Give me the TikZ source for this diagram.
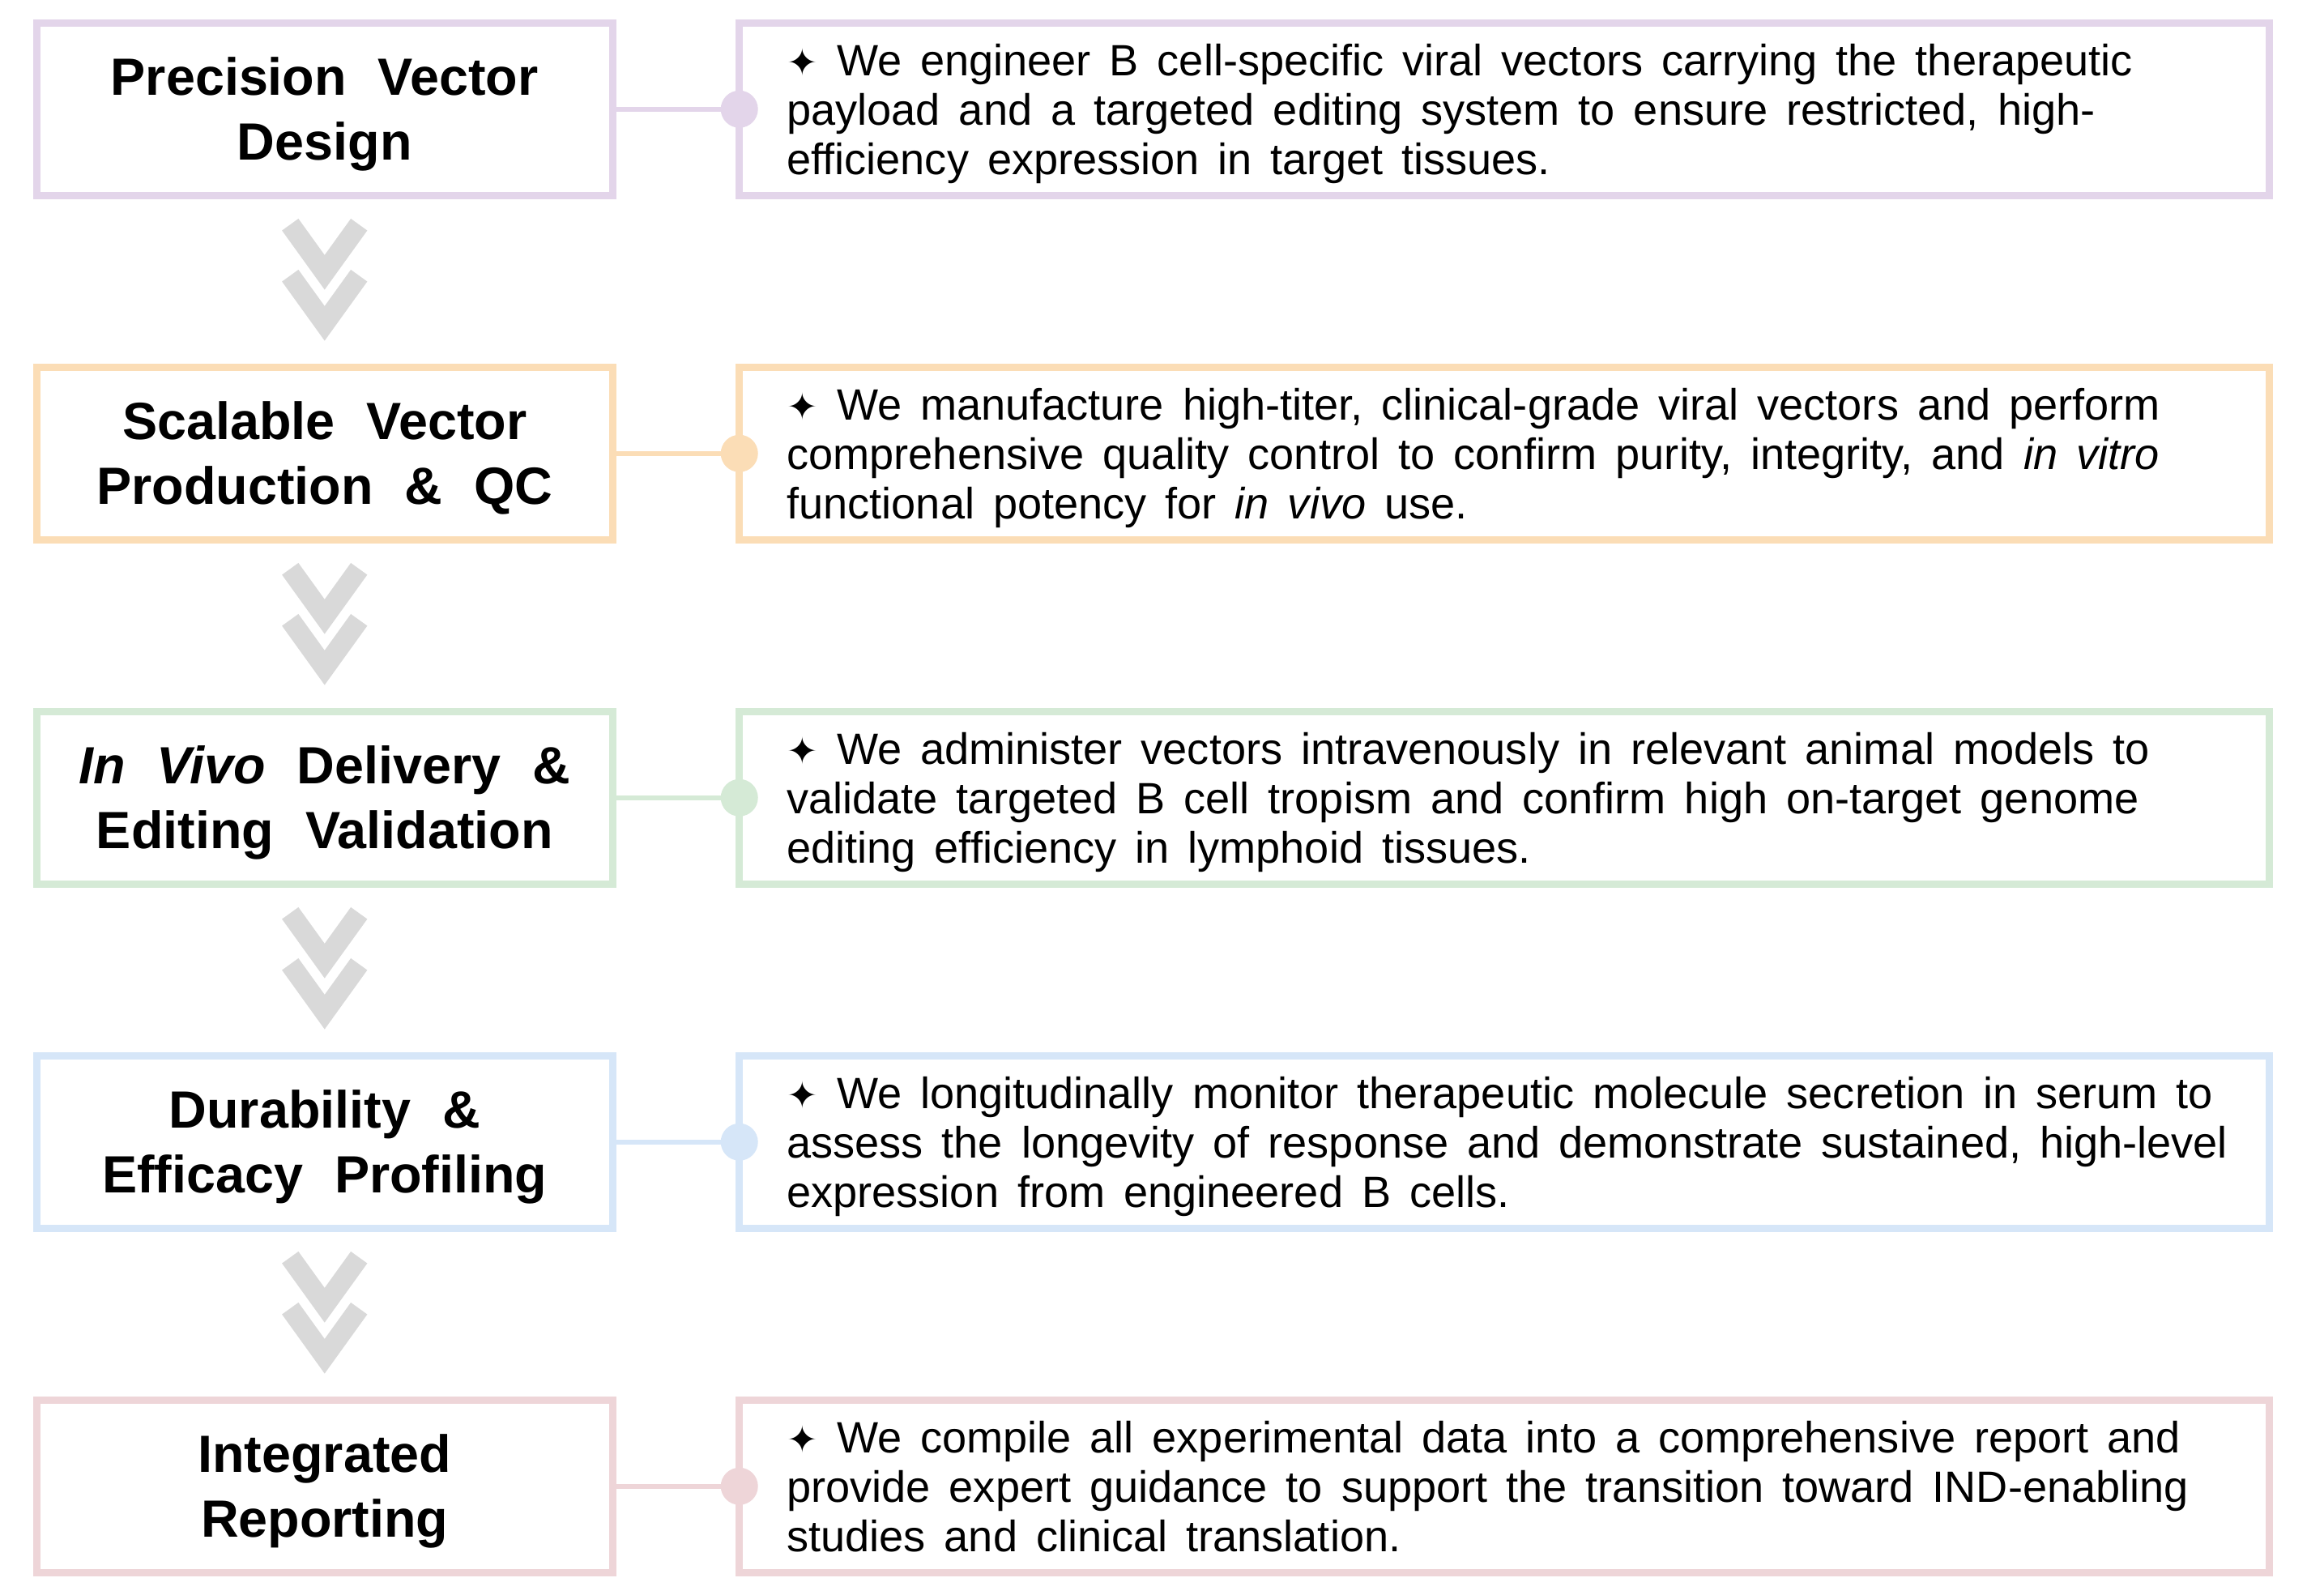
\documentclass[tikz,border=0pt]{standalone}
\usepackage{fontspec}
\setmainfont{Liberation Sans}
\newfontfamily\dejavu[Scale=0.85]{DejaVu Sans}
\usepackage{tikz}
\usetikzlibrary{positioning,calc}

\definecolor{lilac}{HTML}{E3D5EA}
\definecolor{apricot}{HTML}{FBDDB6}
\definecolor{mint}{HTML}{D5EAD6}
\definecolor{skyblue}{HTML}{D6E6F8}
\definecolor{blush}{HTML}{EED5D8}
\definecolor{arrowgray}{HTML}{D9D9D9}
\newcommand{\bulletstar}{{\dejavu ✦}}
\newcommand{\stagefont}{\fontsize{18.4}{22.8}\selectfont\bfseries\spaceskip 3.9mm\relax}
\newcommand{\notefont}{\fontsize{15.4}{17.3}\selectfont\spaceskip 2.3mm\relax}

\begin{document}
\begin{tikzpicture}[
            stage/.style={draw=#1, line width=0.9mm, minimum width=7.11cm, minimum height=2.13cm,
            outer sep=0pt, inner sep=0pt, align=center, text depth=0.2mm, font=\stagefont},
            detail/.style={draw=#1, line width=0.9mm, minimum width=18.89cm, minimum height=2.13cm, outer sep=0pt},
            note/.style={inner sep=0pt, align=left, text depth=0pt, font=\notefont},
            link/.style={draw=#1, line width=0.6mm},
            dot/.style={circle, fill=#1, inner sep=0pt, minimum size=4.6mm},
            chevron/.style={draw=arrowgray, line width=2.5mm, line join=miter},
            chevrons/.pic={
                \draw[chevron] (-0.425,0.70) -- (0,0.11) -- (0.425,0.70);
                \draw[chevron] (-0.425,0.07) -- (0,-0.52) -- (0.425,0.07);}]

            \useasboundingbox (0,0) rectangle (28.69,-19.69);

            % stages on the left
            \node[stage=lilac] (stage1) at (4.0075,-1.3475) {Precision Vector\\Design};
            \node[stage=apricot, below=2.12cm of stage1] (stage2) {Scalable Vector\\Production \& QC};
            \node[stage=mint, below=2.12cm of stage2] (stage3) {\textit{In Vivo} Delivery \&\\Editing Validation};
            \node[stage=skyblue, below=2.12cm of stage3] (stage4) {Durability \&\\Efficacy Profiling};
            \node[stage=blush, below=2.12cm of stage4] (stage5) {Integrated\\Reporting};

            % detail boxes on the right
            \node[detail=lilac, right=1.565cm of stage1] (detail1) {};
            \node[detail=apricot, right=1.565cm of stage2] (detail2) {};
            \node[detail=mint, right=1.565cm of stage3] (detail3) {};
            \node[detail=skyblue, right=1.565cm of stage4] (detail4) {};
            \node[detail=blush, right=1.565cm of stage5] (detail5) {};

            \node[note, right=5.8mm of detail1.west] (note1) {\bulletstar{} We engineer B cell-specific viral vectors carrying the therapeutic\\
            payload and a targeted editing system to ensure restricted, high-\\
            efficiency expression in target tissues.};
            \node[note, right=5.8mm of detail2.west] (note2) {\bulletstar{} We manufacture high-titer, clinical-grade viral vectors and perform\\
            comprehensive quality control to confirm purity, integrity, and \textit{in vitro}\\
            functional potency for \textit{in vivo} use.};
            \node[note, right=5.8mm of detail3.west] (note3) {\bulletstar{} We administer vectors intravenously in relevant animal models to\\
            validate targeted B cell tropism and confirm high on-target genome\\
            editing efficiency in lymphoid tissues.};
            \node[note, right=5.8mm of detail4.west] (note4) {\bulletstar{} We longitudinally monitor therapeutic molecule secretion in serum to\\
            assess the longevity of response and demonstrate sustained, high-level\\
            expression from engineered B cells.};
            \node[note, right=5.8mm of detail5.west] (note5) {\bulletstar{} We compile all experimental data into a comprehensive report and\\
            provide expert guidance to support the transition toward IND-enabling\\
            studies and clinical translation.};

            % links with end dots
            \draw[link=lilac] (stage1) -- (detail1);
            \draw[link=apricot] (stage2) -- (detail2);
            \draw[link=mint] (stage3) -- (detail3);
            \draw[link=skyblue] (stage4) -- (detail4);
            \draw[link=blush] (stage5) -- (detail5);
            \node[dot=lilac] (dot1) at (detail1.west) {};
            \node[dot=apricot] (dot2) at (detail2.west) {};
            \node[dot=mint] (dot3) at (detail3.west) {};
            \node[dot=skyblue] (dot4) at (detail4.west) {};
            \node[dot=blush] (dot5) at (detail5.west) {};

            % double chevrons between stages
            \pic (arrow1) at ($(stage1.south)!0.5!(stage2.north)$) {chevrons};
            \pic (arrow2) at ($(stage2.south)!0.5!(stage3.north)$) {chevrons};
            \pic (arrow3) at ($(stage3.south)!0.5!(stage4.north)$) {chevrons};
            \pic (arrow4) at ($(stage4.south)!0.5!(stage5.north)$) {chevrons};
        \end{tikzpicture}
\end{document}
